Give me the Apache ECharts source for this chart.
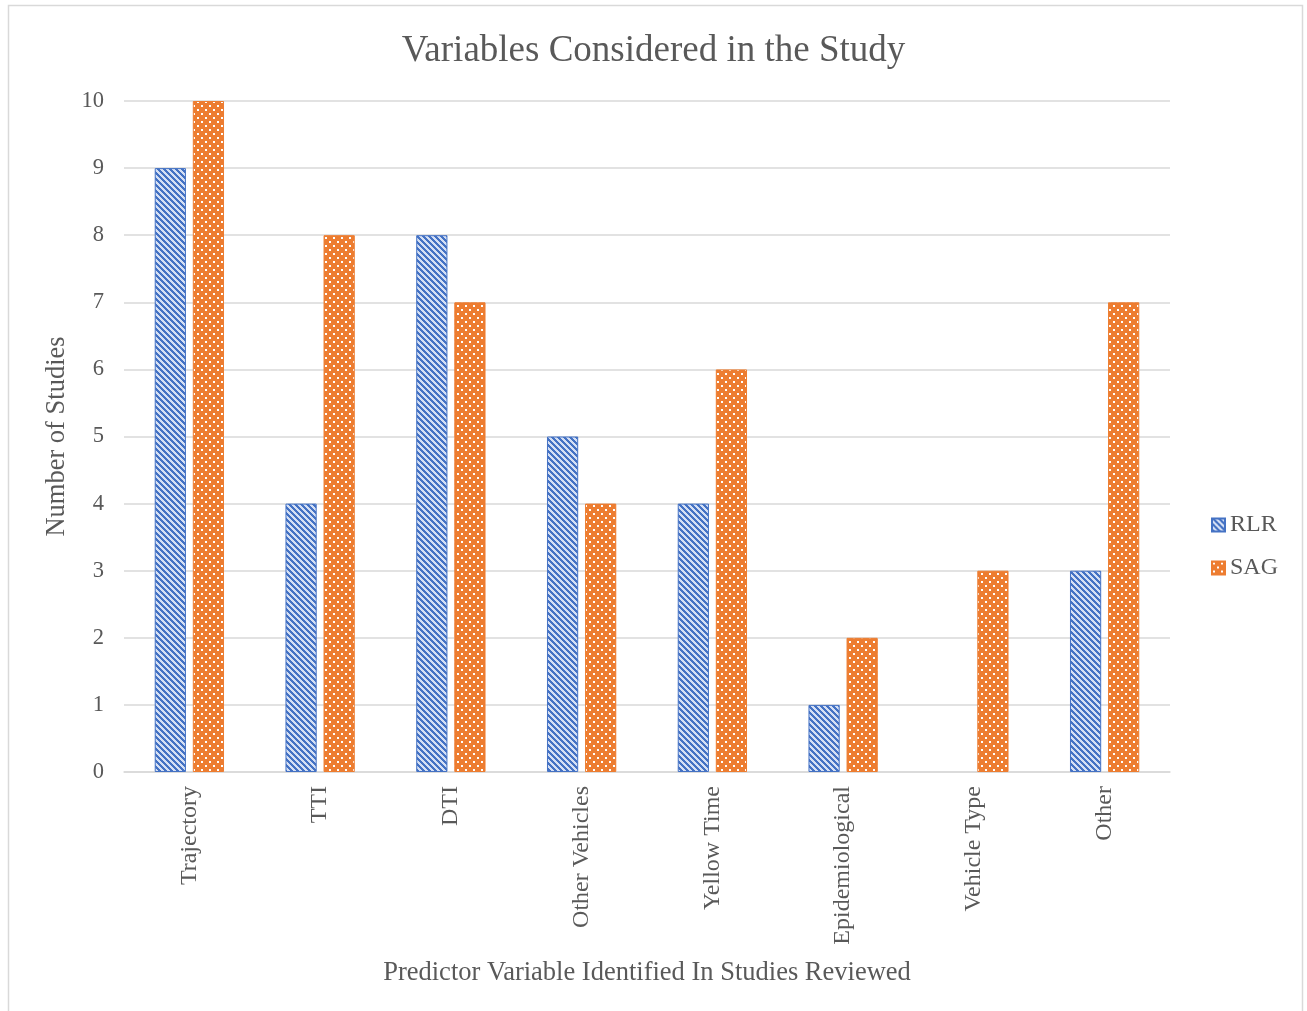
<!DOCTYPE html>
<html><head><meta charset="utf-8">
<script src="https://cdn.jsdelivr.net/npm/echarts@6/dist/echarts.min.js"></script>
<style>html,body{margin:0;padding:0;background:#fff}#c{width:1307px;height:1011px}</style>
</head><body><div id="c"></div>
<script>
const categories = ['Trajectory','TTI','DTI','Other Vehicles','Yellow Time','Epidemiological','Vehicle Type','Other'];
const rlr = [9, 4, 8, 5, 4, 1, 0, 3];
const sag = [10, 8, 7, 4, 6, 2, 3, 7];
const yTicks = [0,1,2,3,4,5,6,7,8,9,10];

function stripeTile(){
  const n = 6;
  const c = document.createElement('canvas'); c.width = n; c.height = n;
  const g = c.getContext('2d');
  g.fillStyle = '#d4dff4'; g.fillRect(0,0,n,n);
  g.fillStyle = '#4472c4';
  for (let y=0;y<n;y++){ for(let x=0;x<n;x++){ const d=((x - y) % n + n) % n; if (d<3) g.fillRect(x,y,1,1);} }
  return c;
}
function dotTile(){
  const c = document.createElement('canvas'); c.width = 8; c.height = 8;
  const g = c.getContext('2d');
  g.fillStyle = '#ed7d31'; g.fillRect(0,0,8,8);
  g.fillStyle = '#ffffff';
  g.fillRect(1,1,2,2); g.fillRect(5,5,2,2);
  return c;
}
const font = 'Liberation Serif';
const chart = echarts.init(document.getElementById('c'));
chart.setOption({
  animation:false,
  backgroundColor:'#fff',
  graphic:[{type:'rect',shape:{x:8.5,y:5.5,width:1294,height:1020},style:{fill:null,stroke:'#d9d9d9',lineWidth:1.5},silent:true}],
  title:{text:'Variables Considered in the Study',left:'center',top:28,textStyle:{fontFamily:font,fontSize:37,fontWeight:'normal',color:'#595959'}},
  legend:{orient:'vertical',left:1206,top:508,itemGap:19,itemWidth:13,itemHeight:13,
    textStyle:{fontFamily:font,fontSize:24,color:'#595959'},
    data:[{name:'RLR',icon:'rect'},{name:'SAG',icon:'rect'}]},
  grid:{left:124,right:137,top:101,bottom:239,containLabel:false},
  xAxis:{type:'category',data:categories,
    name:'Predictor Variable Identified In Studies Reviewed',nameLocation:'middle',nameGap:188,
    nameTextStyle:{fontFamily:font,fontSize:26.5,color:'#595959'},
    axisLine:{lineStyle:{color:'#d9d9d9',width:1.5}},axisTick:{show:false},
    axisLabel:{rotate:90,margin:14,fontFamily:font,fontSize:24,color:'#595959'}},
  yAxis:{type:'value',min:0,max:10,interval:1,
    name:'Number of Studies',nameLocation:'middle',nameGap:51,
    nameTextStyle:{fontFamily:font,fontSize:26.5,color:'#595959'},
    axisLine:{show:false},axisTick:{show:false},
    splitLine:{lineStyle:{color:'#d9d9d9',width:1.5}},
    axisLabel:{margin:20,fontFamily:font,fontSize:22.5,color:'#595959',
      formatter:v=>yTicks.includes(v)?String(v):''}},
  series:[
    {name:'RLR',type:'bar',data:rlr.map(v=>v===0?'-':v),barGap:'22%',barCategoryGap:'47%',
      itemStyle:{color:{image:stripeTile(),repeat:'repeat'},borderColor:'#4472c4',borderWidth:1}},
    {name:'SAG',type:'bar',data:sag,
      itemStyle:{color:{image:dotTile(),repeat:'repeat'},borderColor:'#ed7d31',borderWidth:1}}
  ]
});
</script></body></html>
